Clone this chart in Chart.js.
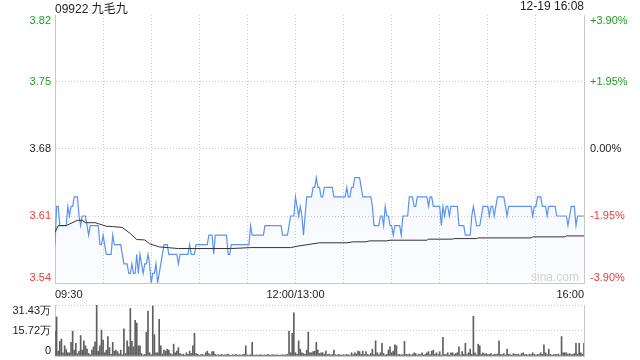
<!DOCTYPE html>
<html>
<head>
<meta charset="utf-8" />
<title>09922 九毛九</title>
<script src="https://cdn.jsdelivr.net/npm/chart.js@4.4.0/dist/chart.umd.min.js"></script>
<style>
  body { margin:0; background:#fff; width:640px; height:360px; overflow:hidden; position:relative;
         font-family:"Liberation Sans", Arial, "Noto Sans CJK SC", sans-serif; }
  #t1 { position:absolute; left:55px; top:-1px; font-size:12px; color:#222; }
  #t2 { position:absolute; right:56px; top:-1px; font-size:12px; color:#222; }
  #wm { position:absolute; left:531px; top:270px; font-size:12px; color:#d2d2d2; }
  #c1 { position:absolute; left:0; top:0; }
  #c2 { position:absolute; left:0; top:300px; }
</style>
</head>
<body>
<canvas id="c1" width="640" height="300"></canvas>
<canvas id="c2" width="640" height="60"></canvas>
<div id="t1">09922 九毛九</div>
<div id="t2">12-19 16:08</div>
<div id="wm">sina.com</div>
<script>
// one price per minute, 09:30 -> 11:59 then 13:00 -> 16:00
const prices = [
  3.58,3.62,3.62,3.60,3.60,3.60,3.60,3.60,3.62,3.61,
  3.62,3.62,3.63,3.63,3.63,3.61,3.60,3.61,3.61,3.61,
  3.60,3.59,3.60,3.60,3.60,3.60,3.60,3.60,3.58,3.58,
  3.59,3.58,3.57,3.57,3.57,3.57,3.59,3.58,3.58,3.58,
  3.58,3.58,3.57,3.56,3.56,3.56,3.55,3.55,3.56,3.55,
  3.55,3.57,3.55,3.57,3.56,3.55,3.56,3.56,3.57,3.56,
  3.54,3.55,3.55,3.56,3.54,3.55,3.56,3.57,3.58,3.58,
  3.58,3.57,3.57,3.57,3.57,3.57,3.57,3.56,3.57,3.57,
  3.57,3.57,3.57,3.57,3.58,3.57,3.57,3.57,3.58,3.58,
  3.58,3.58,3.58,3.58,3.58,3.58,3.59,3.59,3.59,3.57,
  3.59,3.59,3.59,3.59,3.59,3.59,3.59,3.59,3.57,3.57,
  3.58,3.58,3.58,3.58,3.58,3.58,3.58,3.58,3.58,3.58,
  3.58,3.58,3.60,3.59,3.59,3.59,3.59,3.59,3.59,3.59,
  3.59,3.60,3.60,3.60,3.60,3.60,3.60,3.60,3.60,3.60,
  3.60,3.60,3.59,3.59,3.59,3.59,3.60,3.61,3.61,3.61,
  3.63,3.62,3.61,3.62,3.61,3.59,3.61,3.63,3.63,3.63,
  3.63,3.64,3.64,3.65,3.64,3.64,3.63,3.63,3.64,3.64,
  3.64,3.64,3.64,3.64,3.63,3.63,3.63,3.63,3.63,3.63,
  3.63,3.63,3.64,3.63,3.63,3.64,3.64,3.65,3.65,3.65,
  3.65,3.64,3.63,3.63,3.63,3.63,3.63,3.63,3.62,3.60,
  3.60,3.60,3.60,3.61,3.61,3.60,3.62,3.61,3.61,3.60,
  3.60,3.59,3.60,3.60,3.60,3.60,3.59,3.61,3.61,3.61,
  3.61,3.63,3.63,3.63,3.62,3.62,3.63,3.63,3.63,3.63,
  3.63,3.63,3.63,3.62,3.63,3.63,3.62,3.62,3.62,3.62,
  3.62,3.60,3.62,3.61,3.62,3.62,3.61,3.62,3.62,3.62,
  3.62,3.62,3.60,3.60,3.60,3.60,3.59,3.59,3.59,3.59,
  3.61,3.62,3.61,3.60,3.60,3.60,3.61,3.62,3.62,3.62,
  3.62,3.61,3.62,3.62,3.61,3.62,3.63,3.63,3.63,3.63,
  3.63,3.62,3.61,3.62,3.62,3.62,3.62,3.62,3.62,3.62,
  3.62,3.62,3.62,3.62,3.62,3.62,3.62,3.62,3.61,3.62,
  3.62,3.63,3.63,3.63,3.62,3.62,3.62,3.61,3.62,3.62,
  3.62,3.62,3.62,3.61,3.61,3.61,3.61,3.61,3.61,3.61,
  3.60,3.61,3.62,3.62,3.62,3.60,3.61,3.61,3.61,3.61,
  3.61
];

// average price line, read at the minutes where it changes
const avgAt  = [0,2,7,14,17,19,25,27,32,36, 42,47,51,56,59,65,77,110,122,147,
                151,165,182,186,194,196,207,209,232,233, 248,249,263,264,297,298,318,319,330];
const avgVal = [3.593,3.600,3.600,3.6055,3.6055,3.603,3.603,3.602,3.5993,3.599,
                3.598,3.5917,3.5854,3.585,3.581,3.5777,3.576,3.576,3.577,3.577,
                3.5784,3.582,3.582,3.583,3.583,3.584,3.584,3.5847,3.5847,3.5858,
                3.5858,3.5864,3.5864,3.5871,3.5871,3.5882,3.5882,3.5892,3.5892];

// volume per minute, in 万 shares
const volumes = [
  15.3,24.1,3.0,9.0,10.5,2.0,6.3,4.0,2.0,2.0,
  8.4,15.3,3.6,7.8,1.5,3.0,12.6,3.6,9.4,6.3,
  4.2,1.5,0.8,3.6,5.7,8.8,31.4,3.0,6.3,16.0,
  9.8,2.0,3.6,12.0,5.2,1.0,8.4,3.0,3.6,2.7,
  1.2,3.6,0.8,16.8,1.5,9.4,5.7,29.3,9.0,5.7,
  22.0,20.3,6.3,6.3,1.5,0.6,1.0,14.7,27.7,2.0,
  0.8,30.8,13.2,2.0,2.0,22.6,6.3,1.2,3.6,3.0,
  4.2,3.6,1.5,0.8,7.3,2.0,3.0,5.2,1.5,0.8,
  1.2,0.6,2.0,1.0,3.0,1.5,6.3,14.0,1.5,1.0,
  0.5,0.8,1.0,0.6,2.0,3.0,1.5,0.8,2.7,2.7,
  1.0,0.5,0.8,0.6,1.0,0.5,0.7,0.8,1.2,0.6,
  0.5,0.8,0.6,1.0,0.5,0.7,0.6,0.8,1.0,6.3,
  0.6,0.5,0.8,8.4,0.6,0.5,0.7,0.5,0.8,0.6,
  0.5,0.7,0.6,1.0,0.5,0.6,0.8,0.5,0.7,0.6,
  0.5,0.6,0.8,0.5,0.7,1.0,15.3,2.0,14.0,26.6,
  2.0,1.0,9.4,4.2,2.0,1.5,1.0,3.6,14.7,2.0,
  2.0,2.7,3.0,8.4,3.6,1.5,2.0,2.0,1.0,3.0,
  0.8,1.2,0.6,1.0,3.6,0.8,0.5,1.0,0.7,0.6,
  0.8,0.5,1.0,0.7,0.6,2.0,0.8,2.0,1.2,3.0,
  2.7,1.0,3.0,0.8,2.7,1.0,0.6,1.5,4.2,0.8,
  9.4,2.0,0.8,2.0,7.8,1.5,0.6,1.0,3.6,5.7,
  2.0,3.0,6.9,6.3,0.8,1.0,0.6,0.8,9.0,1.0,
  0.8,1.2,0.6,1.0,2.0,1.5,0.6,1.2,0.8,2.0,
  0.6,1.0,2.0,2.7,0.8,3.0,3.6,1.0,2.0,0.8,
  2.7,0.6,11.5,1.0,0.8,2.0,0.6,2.0,2.0,0.8,
  1.5,2.0,5.7,0.6,2.7,1.0,7.8,0.8,2.0,4.2,
  1.0,24.5,2.0,0.8,7.3,6.3,1.0,2.0,1.2,1.5,
  0.8,1.0,1.5,0.6,1.0,0.8,1.2,9.4,1.0,0.8,
  1.5,0.6,4.2,1.0,0.8,0.6,1.5,1.0,0.8,1.2,
  0.6,1.5,2.0,0.8,1.0,0.6,1.2,0.8,2.0,1.0,
  0.6,1.0,0.8,2.0,1.0,6.9,2.0,0.8,4.2,1.0,
  0.6,0.8,1.0,0.8,1.2,0.6,12.0,2.0,2.0,2.0,
  1.0,1.5,0.8,1.0,1.5,7.8,1.0,7.8,2.0,1.0,
  7.8
];

const priceTicks = [3.54, 3.61, 3.68, 3.75, 3.82];
const pctLabels  = ['-3.90%', '-1.95%', '0.00%', '+1.95%', '+3.90%'];
const volTicks   = [0, 15.72, 31.43];
const volLabels  = ['0', '15.72万', '31.43万'];
const timeAt     = [0, 150, 330];
const timeLabels = ['09:30', '12:00/13:00', '16:00'];

const GREEN = '#1e9e1e', RED = '#f03a3a', DARK = '#222';
const tickCol = [RED, RED, DARK, GREEN, GREEN];
const DOT = '#cccccc', EDGE = '#c8c8c8';

Chart.defaults.font.family = '"Liberation Sans", Arial, sans-serif';
Chart.defaults.font.size = 11;
Chart.defaults.color = DARK;

const setTicks = list => s => { s.ticks = list.map(v => ({ value: v })); };
const fixY = w => s => { s.width = w; s.paddingTop = 0; s.paddingBottom = 0; };
const fixX = h => s => { s.height = h; s.paddingLeft = 0; s.paddingRight = 0; };

// top label hangs below the top line, bottom label sits above the bottom line
const edgeLabels = {
  id: 'edgeLabels',
  beforeDraw(chart) {
    Object.values(chart.scales).forEach(s => {
      if (s.axis !== 'y') return;
      const items = s.getLabelItems();
      if (!items.length) return;
      items[0].options.textBaseline = 'bottom';
      items[items.length - 1].options.textBaseline = 'top';
    });
  }
};

new Chart(document.getElementById('c1'), {
  type: 'line',
  data: {
    datasets: [
      {
        data: avgAt.map((m, k) => ({ x: m, y: avgVal[k] })),
        borderColor: '#333', borderWidth: 1, pointRadius: 0, fill: false
      },
      {
        data: prices.map((p, i) => ({ x: i, y: p })),
        borderColor: '#5b93ef', borderWidth: 1.2, pointRadius: 0, fill: 'start',
        backgroundColor: ctx => {
          const a = ctx.chart.chartArea;
          if (!a) return 'rgba(0,0,0,0)';
          const g = ctx.chart.ctx.createLinearGradient(0, a.top, 0, a.bottom);
          g.addColorStop(0, 'rgba(91,147,239,0.13)');
          g.addColorStop(1, 'rgba(91,147,239,0.02)');
          return g;
        }
      }
    ]
  },
  plugins: [edgeLabels],
  options: {
    responsive: false, animation: false, events: [],
    layout: { padding: { top: 15, left: 0, right: 0, bottom: 0 } },
    plugins: { legend: { display: false }, tooltip: { enabled: false } },
    scales: {
      x: {
        type: 'linear', min: 0, max: 330,
        ticks: {
          stepSize: 30, autoSkip: false, maxRotation: 0, padding: 5, align: 'inner',
          callback: v => { const k = timeAt.indexOf(v); return k >= 0 ? timeLabels[k] : ''; }
        },
        grid: { color: DOT, drawTicks: false },
        border: { color: EDGE, dash: [1, 2] },
        afterFit: fixX(17)
      },
      y: {
        min: 3.54, max: 3.82,
        afterBuildTicks: setTicks(priceTicks),
        ticks: {
          padding: 4,
          color: c => tickCol[c.index],
          callback: v => v.toFixed(2)
        },
        grid: { drawTicks: false, color: c => (c.tick && c.tick.value === 3.82) ? 'rgba(0,0,0,0)' : DOT },
        border: { color: EDGE, dash: [1, 2] },
        afterFit: fixY(55)
      },
      yr: {
        position: 'right', min: 3.54, max: 3.82,
        afterBuildTicks: setTicks(priceTicks),
        ticks: {
          padding: 6,
          color: c => tickCol[c.index],
          callback: (v, i) => pctLabels[i]
        },
        grid: { drawOnChartArea: false, drawTicks: false },
        border: { color: EDGE },
        afterFit: fixY(56)
      }
    }
  }
});

new Chart(document.getElementById('c2'), {
  type: 'bar',
  data: {
    datasets: [{
      data: volumes.map((v, i) => ({ x: i, y: v })),
      backgroundColor: '#5f5f5f', barThickness: 1
    }]
  },
  plugins: [edgeLabels],
  options: {
    responsive: false, animation: false, events: [],
    layout: { padding: { top: 5, left: 0, right: 0, bottom: 0 } },
    plugins: { legend: { display: false }, tooltip: { enabled: false } },
    scales: {
      x: {
        type: 'linear', min: 0, max: 330, offset: false,
        ticks: { display: false },
        grid: { display: false },
        border: { color: EDGE },
        afterFit: fixX(4)
      },
      y: {
        min: 0, max: 31.43,
        afterBuildTicks: setTicks(volTicks),
        ticks: { padding: 4, callback: (v, i) => volLabels[i] },
        grid: { drawTicks: false, color: c => (c.tick && c.tick.value === 0) ? 'rgba(0,0,0,0)' : DOT },
        border: { color: EDGE, dash: [1, 2] },
        afterFit: fixY(55)
      },
      yr: {
        position: 'right', min: 0, max: 31.43,
        ticks: { display: false },
        grid: { drawOnChartArea: false, drawTicks: false },
        border: { color: EDGE },
        afterFit: fixY(56)
      }
    }
  }
});
</script>
</body>
</html>
